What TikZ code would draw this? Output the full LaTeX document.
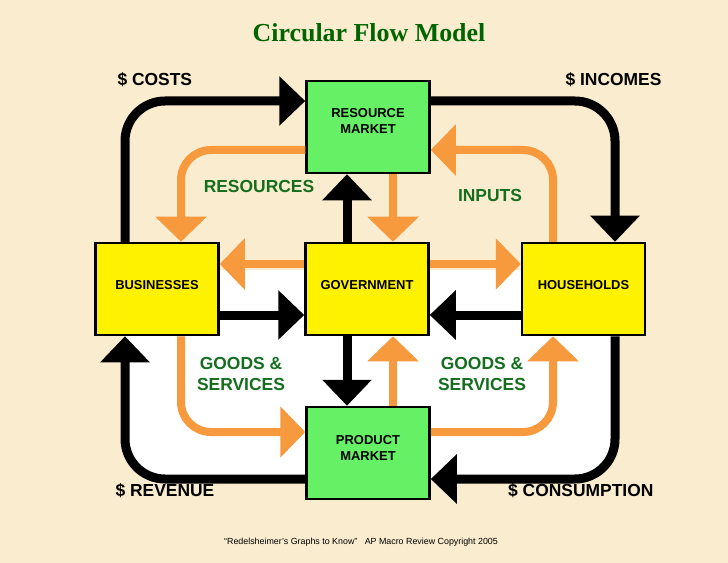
\documentclass[tikz,border=0pt]{standalone}
\usepackage{fontspec}
\setmainfont{Liberation Sans}
\newfontfamily\titlefont{Liberation Serif}
\usetikzlibrary{arrows.meta}
\definecolor{paper}{RGB}{250,236,206}
\definecolor{leaf}{RGB}{0,100,0}
\definecolor{labelgreen}{RGB}{20,110,30}
\definecolor{mkt}{RGB}{102,240,102}
\definecolor{flow}{RGB}{247,153,61}
\tikzset{
  box/.style={draw=black, line width=2.5bp, fill=yellow, minimum width=123bp, minimum height=92bp, inner sep=0pt, align=center, font=\fontsize{13}{16}\selectfont\bfseries},
  market/.style={box, fill=mkt},
  money/.style={line width=9bp, -{Triangle[length=26bp,width=48bp]}},
  real/.style={line width=8bp, color=flow, -{Triangle[length=25bp,width=50bp]}},
  tag/.style={font=\fontsize{17.5}{21}\selectfont\bfseries},
  greentag/.style={tag, text=labelgreen, align=center}
}
\begin{document}
\begin{tikzpicture}[x=1bp,y=-1bp]
			%%%%% START %%%%%
			\useasboundingbox (0,0) rectangle (728,563);
			\fill[paper] (0,0) rectangle (728,563);
			\fill[white, rounded corners=40bp] (125,270) rectangle (616,479);
			
			\node[font=\titlefont\fontsize{26}{30}\selectfont\bfseries, text=leaf] (title) at (369,33) {Circular Flow Model};
			
			\node[market] (res) at (368,127) {RESOURCE\\MARKET\\[-4bp]};
			\node[box] (bus) at (157,289) {BUSINESSES\\[-8bp]};
			\node[box] (gov) at (367,289) {GOVERNMENT\\[-8bp]};
			\node[box] (hh) at (583.5,289) {HOUSEHOLDS\\[-8bp]};
			\node[market] (prod) at (368,453) {PRODUCT\\MARKET\\[-6bp]};
			
			% money flows
			\draw[money, rounded corners=40bp] ([xshift=-32bp]bus.north) |- ([yshift=26bp]res.west);
			\draw[money, rounded corners=40bp] ([yshift=26bp]res.east) -| ([xshift=31.5bp]hh.north);
			\draw[money, rounded corners=40bp] ([yshift=-26bp]prod.west) -| ([xshift=-32bp]bus.south);
			\draw[money, rounded corners=40bp] ([xshift=31.5bp]hh.south) |- ([yshift=-26bp]prod.east);
			\draw[money] ([yshift=-26bp]bus.east) -- ([yshift=-26bp]gov.west);
			\draw[money] ([yshift=-26bp]hh.west) -- ([yshift=-26bp]gov.east);
			\draw[money] ([xshift=-20bp]gov.north) -- ([xshift=-20bp]gov.north |- res.south);
			\draw[money] ([xshift=-20bp]gov.south) -- ([xshift=-20bp]gov.south |- prod.north);
			
			% real flows
			\draw[real, rounded corners=30bp] ([yshift=-23bp]res.west) -| ([xshift=24bp]bus.north);
			\draw[real, rounded corners=30bp] ([xshift=-30.5bp]hh.north) |- ([yshift=-23bp]res.east);
			\draw[real] ([xshift=25bp]res.south) -- ([xshift=25bp]res.south |- gov.north);
			\draw[real] ([yshift=25bp]gov.west) -- ([yshift=25bp]gov.west -| bus.east);
			\draw[real] ([yshift=25bp]gov.east) -- ([yshift=25bp]gov.east -| hh.west);
			\draw[real] ([xshift=25bp]prod.north) -- ([xshift=25bp]prod.north |- gov.south);
			\draw[real, rounded corners=30bp] ([xshift=24bp]bus.south) |- ([yshift=21bp]prod.west);
			\draw[real, rounded corners=30bp] ([yshift=21bp]prod.east) -| ([xshift=-30.5bp]hh.south);
			
			% labels
			\node[tag, anchor=west] (costs) at (114,80) {\$ COSTS};
			\node[tag, anchor=east] (incomes) at (665,80) {\$ INCOMES};
			\node[tag, anchor=west] (revenue) at (112,491) {\$ REVENUE};
			\node[tag, anchor=east] (consumption) at (657,491) {\$ CONSUMPTION};
			\node[greentag] (resources) at (259,186) {RESOURCES};
			\node[greentag] (inputs) at (490,195) {INPUTS};
			\node[greentag] (goodsl) at (241,374) {GOODS \&\\SERVICES};
			\node[greentag] (goodsr) at (482,374) {GOODS \&\\SERVICES};
			
			\node[font=\fontsize{8.9}{10}\selectfont] (credit) at (361,542) {“Redelsheimer’s Graphs to Know”\ \ \ AP Macro Review Copyright 2005};
			%%%%% END %%%%%
\end{tikzpicture}
\end{document}
